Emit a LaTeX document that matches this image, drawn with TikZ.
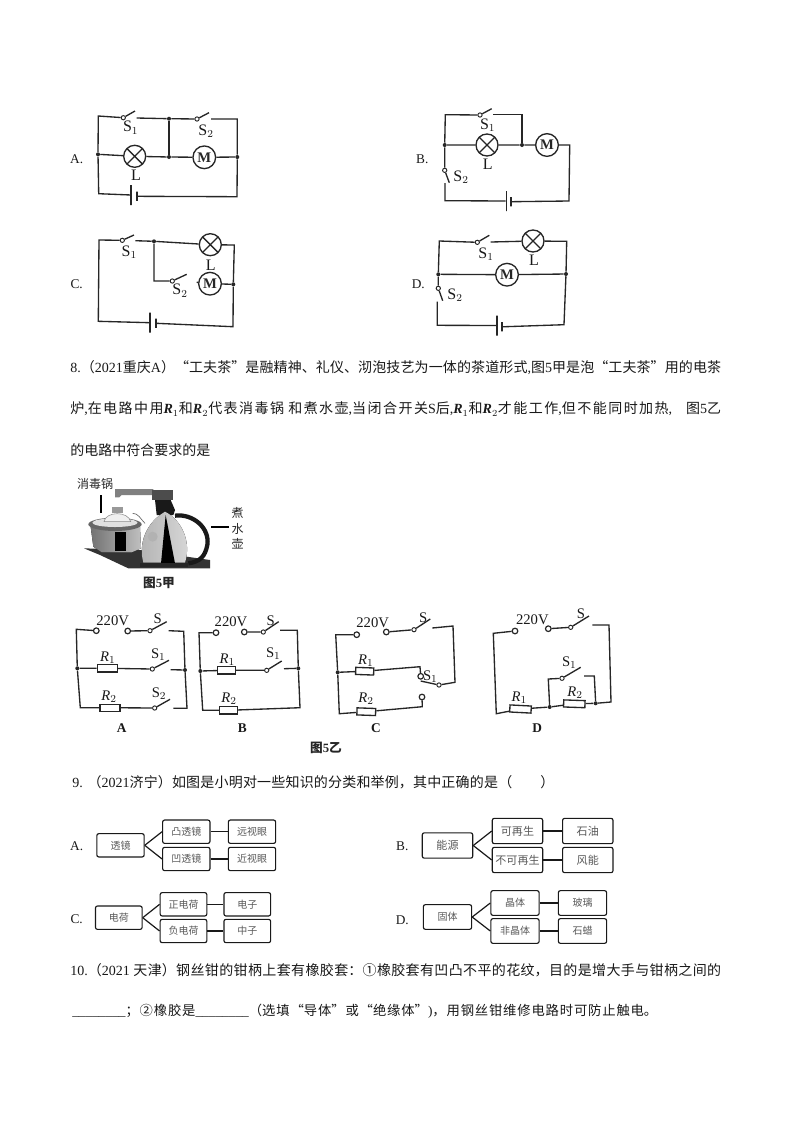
\documentclass[tikz,border=0pt]{standalone}
\usepackage{fontspec}
\setmainfont{Noto Sans CJK SC}
\newfontfamily\latfont{Liberation Serif}
\newcommand{\en}[1]{{\latfont #1}}
\newcommand{\rsub}[1]{\en{\textbf{\textit{R}}$_{#1}$}}
\newcommand{\fitline}[2]{\parbox{#1}{\XeTeXlinebreaklocale "zh"\XeTeXlinebreakskip=0pt plus 3pt\relax\parfillskip=0pt\relax #2}}
\tikzset{
  wire/.style={line width=1pt, black!85},
  lamp/.style={circle, draw, black!85, line width=1pt, fill=white, inner sep=0pt, minimum size=16.5pt,
    path picture={\draw[line width=1pt] (path picture bounding box.south west) -- (path picture bounding box.north east)
      (path picture bounding box.north west) -- (path picture bounding box.south east);}},
  motor/.style={circle, draw, black!85, line width=1pt, fill=white, inner sep=0pt, minimum size=17pt,
    font=\latfont\bfseries\fontsize{11}{12}\selectfont},
  term/.style={circle, draw, black!85, line width=0.7pt, fill=white, inner sep=0pt, minimum size=3.2pt},
  termb/.style={term, line width=0.9pt, minimum size=4.2pt},
  dotn/.style={circle, fill=black!85, inner sep=0pt, minimum size=3pt},
  platel/.style={draw, black!85, line width=0.9pt, inner sep=0pt, minimum width=0pt, minimum height=15pt},
  plates/.style={draw, black!85, line width=1.3pt, inner sep=0pt, minimum width=0pt, minimum height=7pt},
  resist/.style={draw, black!85, line width=1pt, fill=white, inner sep=0pt, minimum width=15pt, minimum height=5.3pt},
  lbl/.style={inner sep=0pt, black!90, font=\latfont\fontsize{12}{13}\selectfont},
  lbls/.style={inner sep=0pt, black!90, font=\latfont\fontsize{11}{12}\selectfont},
  opt/.style={inner sep=0pt, black!90, font=\latfont\fontsize{10}{11}\selectfont},
  optb/.style={inner sep=0pt, black!90, font=\latfont\bfseries\fontsize{10}{11}\selectfont},
  para/.style={inner sep=0pt, anchor=west, black!90, font=\fontsize{10.5}{13}\selectfont},
  paras/.style={inner sep=0pt, anchor=west, black!90, font=\fontsize{10}{13}\selectfont},
  figcap/.style={inner sep=0pt, black!85, font=\bfseries\fontsize{9.5}{10}\selectfont},
  note/.style={inner sep=0pt, black!85, font=\fontsize{9}{10.5}\selectfont, align=center},
  boxa/.style={draw, black!90, line width=0.85pt, rounded corners=1.5pt, text=black!65, inner sep=0pt,
    minimum width=35.5pt, minimum height=17.5pt, font=\fontsize{7.5}{9}\selectfont},
  boxc/.style={boxa, minimum width=35pt},
  boxb/.style={boxa, minimum width=37.8pt, minimum height=19pt, font=\fontsize{8.3}{9}\selectfont},
  boxd/.style={boxa, minimum width=36.2pt, minimum height=18.5pt},
  link/.style={line width=0.9pt, black!90},
}
\begin{document}
\begin{tikzpicture}[x=0.75pt, y=-0.75pt]
  \path[use as bounding box, fill=white] (0,0) rectangle (794,1122);

  % Circuit A
  \node[lamp] (al) at (134.7,156.3) {};
  \node[motor] (am) at (204.3,157.3) {M};
  \node[term] (as1) at (123.3,117.7) {};
  \node[term] (as2) at (197,119) {};
  \node[dotn] (aj1) at (98,154.3) {};
  \node[dotn] (aj2) at (169,118.7) {};
  \node[dotn] (aj3) at (169,157) {};
  \node[dotn] (aj4) at (237.3,157) {};
  \node[platel] (ab1) at (131,195) {};
  \node[plates] (ab2) at (137,196.3) {};
  \path (98.3,116) coordinate (ac1) (135,111) coordinate (ac2) (136.7,118) coordinate (ac3)
    (209,112.7) coordinate (ac4) (211,119) coordinate (ac5) (237.3,119) coordinate (ac6)
    (237,196.7) coordinate (ac7) (98.7,193.7) coordinate (ac8);
  \draw[wire] (ab1) -- (ac8) -- (aj1) -- (ac1) -- (as1) -- (ac2);
  \draw[wire] (ac3) -- (aj2) -- (as2) -- (ac4);
  \draw[wire] (ac5) -- (ac6) -- (aj4) -- (ac7) -- (ab2);
  \draw[wire] (aj1) -- (al) -- (aj3) -- (am) -- (aj4);
  \draw[wire] (aj2) -- (aj3);
  \node[opt] (aname) at (76.7,159.3) {A.};
  \node[lbl] (as1t) at (130.7,127.7) {S$_1$};
  \node[lbl] (as2t) at (206,131) {S$_2$};
  \node[lbl] (alt) at (136,175) {L};

  % Circuit B
  \node[lamp] (bl) at (487,145) {};
  \node[motor] (bm) at (547,145) {M};
  \node[term] (bs1) at (480,115) {};
  \node[term] (bs2) at (444.7,170.3) {};
  \node[dotn] (bj1) at (444.7,145) {};
  \node[dotn] (bj2) at (522,145) {};
  \node[platel] (bb1) at (506.3,201) {};
  \node[plates] (bb2) at (511,201.7) {};
  \path (445.3,114.7) coordinate (bc1) (491.7,108.7) coordinate (bc2) (493.3,114.7) coordinate (bc3)
    (522,114.7) coordinate (bc4) (569.7,145) coordinate (bc5) (569,201) coordinate (bc6)
    (445,200.7) coordinate (bc7) (445,183) coordinate (bc8) (449.3,182.7) coordinate (bc9);
  \draw[wire] (bb1) -- (bc7) -- (bc8);
  \draw[wire] (bc9) -- (bs2) -- (bj1) -- (bc1) -- (bs1) -- (bc2);
  \draw[wire] (bc3) -- (bc4) -- (bj2);
  \draw[wire] (bj1) -- (bl) -- (bj2) -- (bm) -- (bc5) -- (bc6) -- (bb2);
  \node[opt] (bname) at (422.3,159) {B.};
  \node[lbl] (bs1t) at (487.7,125) {S$_1$};
  \node[lbl] (bs2t) at (461,177.3) {S$_2$};
  \node[lbl] (blt) at (487.7,164.3) {L};

  % Circuit C
  \node[lamp] (cl) at (210.3,244.7) {};
  \node[motor] (cm) at (210,283.7) {M};
  \node[term] (cs1) at (122.3,240.3) {};
  \node[term] (cs2) at (172.3,281) {};
  \node[dotn] (cj1) at (154,241.3) {};
  \node[dotn] (cj2) at (233.3,284.3) {};
  \node[platel] (cb1) at (150,322.7) {};
  \node[plates] (cb2) at (156.3,323.3) {};
  \path (99,240) coordinate (cc1) (134,235) coordinate (cc2) (135.3,240.7) coordinate (cc3)
    (234.3,245) coordinate (cc4) (233,326.7) coordinate (cc5) (98.3,321.3) coordinate (cc6)
    (154,281) coordinate (cc7) (186.7,274.3) coordinate (cc8) (196.7,282.3) coordinate (cc9);
  \draw[wire] (cb1) -- (cc6) -- (cc1) -- (cs1) -- (cc2);
  \draw[wire] (cc3) -- (cj1) -- (cl) -- (cc4) -- (cj2) -- (cc5) -- (cb2);
  \draw[wire] (cj1) -- (cc7) -- (cs2) -- (cc8);
  \draw[wire] (cc9) -- (cm) -- (cj2);
  \node[opt] (cname) at (76.7,284.3) {C.};
  \node[lbl] (cs1t) at (129.3,252.3) {S$_1$};
  \node[lbl] (cs2t) at (180,290.7) {S$_2$};
  \node[lbl] (clt) at (210.7,265) {L};

  % Circuit D
  \node[lamp] (dl) at (533,241) {};
  \node[motor] (dm) at (507,274.7) {M};
  \node[term] (ds1) at (477.3,242.3) {};
  \node[term] (ds2) at (438.3,288.3) {};
  \node[dotn] (dj1) at (438.3,274.3) {};
  \node[dotn] (dj2) at (566,274) {};
  \node[platel] (db1) at (497,325.5) {};
  \node[plates] (db2) at (502.3,326.8) {};
  \path (439.3,241) coordinate (dc1) (489.3,235.3) coordinate (dc2) (490.7,242) coordinate (dc3)
    (566.7,241.3) coordinate (dc4) (564,324.7) coordinate (dc5) (437.3,325.3) coordinate (dc6)
    (437.3,301.7) coordinate (dc7) (442.7,300.7) coordinate (dc8);
  \draw[wire] (db1) -- (dc6) -- (dc7);
  \draw[wire] (dc8) -- (ds2) -- (dj1) -- (dc1) -- (ds1) -- (dc2);
  \draw[wire] (dc3) -- (dl) -- (dc4) -- (dj2) -- (dc5) -- (db2);
  \draw[wire] (dj1) -- (dm) -- (dj2);
  \node[opt] (dname) at (418.3,284.3) {D.};
  \node[lbl] (ds1t) at (486,254) {S$_1$};
  \node[lbl] (ds2t) at (455,295) {S$_2$};
  \node[lbl] (dlt) at (534,260.7) {L};

  % Question 8
  \node[para] (q8a) at (70,368) {\fitline{488.2pt}{\en{8.}（\en{2021}重庆\en{A}）“工夫茶”是融精神、礼仪、沏泡技艺为一体的茶道形式\en{,}图\en{5}甲是泡“工夫茶”用的电茶}};
  \node[para] (q8b) at (70,409) {\fitline{488.2pt}{炉\en{,}在电路中用\rsub{1}和\rsub{2}代表消毒锅\en{ }和煮水壶\en{,}当闭合开关\en{S}后\en{,}\rsub{1}和\rsub{2}才能工作\en{,}但不能同时加热\en{,}\quad 图\en{5}乙}};
  \node[para] (q8c) at (70,450) {的电路中符合要求的是};

  % Figure 5 jia
  \begin{scope}[shift={(60,465)}, x=0.25pt, y=-0.25pt]
    \fill[black!80] (72,250) -- (240,255) -- (450,285) -- (450,310) -- (205,310) -- (120,270) -- cycle;
    \fill[black!50] (165,72) -- (280,72) -- (280,90) -- (185,90) -- (178,97) -- (165,97) -- cycle;
    \fill[black!70] (275,75) rectangle (338,105);
    \fill[black!90] (285,105) -- (332,105) -- (345,135) -- (340,150) -- (290,150) -- cycle;
    \fill[left color=black!55, middle color=white, right color=black!25]
      (92,185) -- (240,185) -- (243,250) -- (215,262) -- (125,262) -- (100,245) -- cycle;
    \fill[black] (165,200) rectangle (197,258);
    \fill[black!60] (165,178) ellipse (80 and 20);
    \fill[black!12] (165,173) ellipse (68 and 13);
    \fill[black!6, draw=black!45, line width=0.4pt] (132,170) .. controls (138,138) and (205,138) .. (212,170) -- cycle;
    \fill[black!40] (155,125) rectangle (190,145);
    \draw[black!60, line width=0.5pt] (218,145) .. controls (235,145) and (240,160) .. (255,175);
    \draw[black!90, line width=3.2pt] (345,152) .. controls (400,145) and (450,190) .. (442,240) .. controls (435,275) and (420,290) .. (385,295);
    \fill[left color=black!30, middle color=white, right color=black!15]
      (250,293) .. controls (235,240) and (255,175) .. (315,140) .. controls (365,165) and (395,230) .. (375,293) -- cycle;
    \fill[black] (317,150) -- (345,295) -- (303,295) -- cycle;
    \fill[black!30] (278,215) circle (15);
    \fill[black!85] (240,295) -- (385,295) -- (385,305) -- (240,305) -- cycle;
  \end{scope}
  \coordinate (xline1a) at (101,495);
  \coordinate (xline1b) at (101,513);
  \coordinate (zline1a) at (211,527);
  \coordinate (zline1b) at (229,527);
  \draw[black, line width=1pt] (xline1a) -- (xline1b);
  \draw[black, line width=1pt] (zline1a) -- (zline1b);
  \node[note] (xdg) at (95,484) {消毒锅};
  \node[note] (zsh) at (237.7,528.5) {煮\\[1pt]水\\[1pt]壶};
  \node[figcap] (fig5j) at (159,583.3) {图\en{5}甲};

  % Figure 5 yi, circuit A
  \node[termb] (ra1) at (96.3,630.7) {};
  \node[termb] (ra2) at (127.7,631) {};
  \node[term] (ras) at (150,630.7) {};
  \node[term] (ras1) at (152.3,669) {};
  \node[term] (ras2) at (154.7,708) {};
  \node[dotn] (raj1) at (77.3,668.3) {};
  \node[dotn] (raj2) at (185,670) {};
  \node[resist] (rar1) at (107.3,668.3) {};
  \node[resist] (rar2) at (110,707.7) {};
  \path (76.3,629.3) coordinate (rc1) (80.3,707.7) coordinate (rc2) (166.7,621.7) coordinate (rc3)
    (168.7,630.7) coordinate (rc4) (183.7,631.3) coordinate (rc5) (187,708.3) coordinate (rc6)
    (173.3,708.3) coordinate (rc7) (170,699.3) coordinate (rc8) (169,660.3) coordinate (rc9)
    (170.7,669.7) coordinate (rc10);
  \draw[wire] (ra1) -- (rc1) -- (raj1) -- (rc2) -- (rar2) -- (ras2) -- (rc8);
  \draw[wire] (raj1) -- (rar1) -- (ras1) -- (rc9);
  \draw[wire] (ra2) -- (ras) -- (rc3);
  \draw[wire] (rc4) -- (rc5) -- (raj2) -- (rc6) -- (rc7);
  \draw[wire] (rc10) -- (raj2);
  \node[lbls] (rat0) at (112.7,620.7) {220V};
  \node[lbls] (rat1) at (157.7,618.3) {S};
  \node[lbls] (rat2) at (107.7,657.3) {\textit{R}$_1$};
  \node[lbls] (rat3) at (158.3,655) {S$_1$};
  \node[lbls] (rat4) at (109,696.7) {\textit{R}$_2$};
  \node[lbls] (rat5) at (159,694) {S$_2$};
  \node[optb] (rat6) at (121.7,728.3) {A};

  % circuit B
  \node[termb] (rb1) at (216,632.7) {};
  \node[termb] (rb2) at (244.3,632) {};
  \node[term] (rbs) at (263.3,632) {};
  \node[term] (rbs1) at (266.7,670.3) {};
  \node[dotn] (rbj1) at (200.3,671) {};
  \node[dotn] (rbj2) at (298.3,668.3) {};
  \node[resist, minimum width=13.5pt] (rbr1) at (226.5,670.3) {};
  \node[resist, minimum width=13.5pt] (rbr2) at (228.5,710.3) {};
  \path (199,632.7) coordinate (sc1) (202.7,710.3) coordinate (sc2) (278.7,621.7) coordinate (sc3)
    (280,630.3) coordinate (sc4) (297.3,630.3) coordinate (sc5) (300,707.7) coordinate (sc6)
    (281.7,661) coordinate (sc7) (284,668.7) coordinate (sc8);
  \draw[wire] (rb1) -- (sc1) -- (rbj1) -- (sc2) -- (rbr2) -- (sc6) -- (rbj2) -- (sc5) -- (sc4);
  \draw[wire] (rbj1) -- (rbr1) -- (rbs1) -- (sc7);
  \draw[wire] (rb2) -- (rbs) -- (sc3);
  \draw[wire] (sc8) -- (rbj2);
  \node[lbls] (rbt0) at (231,622) {220V};
  \node[lbls] (rbt1) at (270.7,620.7) {S};
  \node[lbls] (rbt2) at (227.3,659.3) {\textit{R}$_1$};
  \node[lbls] (rbt3) at (273.3,653.3) {S$_1$};
  \node[lbls] (rbt4) at (229,698.3) {\textit{R}$_2$};
  \node[optb] (rbt6) at (242.3,727.7) {B};

  % circuit C
  \node[termb] (rd1) at (356.7,634.7) {};
  \node[termb] (rd2) at (386.3,632) {};
  \node[term] (rds) at (414,629.7) {};
  \node[term] (rds1) at (439,685) {};
  \node[termb] (rdu) at (420.7,676.3) {};
  \node[termb] (rdd) at (422,697) {};
  \node[dotn] (rdj1) at (337.7,672.3) {};
  \node[resist, minimum width=13.5pt, rotate=-2] (rdr1) at (364.7,671.2) {};
  \node[resist, minimum width=14pt, rotate=-2] (rdr2) at (366.3,711.7) {};
  \path (335.7,634.7) coordinate (tc1) (339.3,713.7) coordinate (tc2) (430.3,619) coordinate (tc3)
    (432.3,628) coordinate (tc4) (453,626) coordinate (tc5) (455,682.3) coordinate (tc6)
    (420.7,681) coordinate (tc7) (420,666.7) coordinate (tc8) (422.3,706.7) coordinate (tc9);
  \draw[wire] (rd1) -- (tc1) -- (rdj1) -- (tc2) -- (rdr2) -- (tc9) -- (rdd);
  \draw[wire] (rdj1) -- (rdr1) -- (tc8) -- (rdu);
  \draw[wire] (rd2) -- (rds) -- (tc3);
  \draw[wire] (tc4) -- (tc5) -- (tc6) -- (rds1) -- (tc7);
  \node[lbls] (rdt0) at (372.7,622.7) {220V};
  \node[lbls] (rdt1) at (423.3,617.3) {S};
  \node[lbls] (rdt2) at (365.7,660.7) {\textit{R}$_1$};
  \node[lbls] (rdt3) at (430.3,676.7) {S$_1$};
  \node[lbls] (rdt4) at (366,699) {\textit{R}$_2$};
  \node[optb] (rdt6) at (376,728) {C};

  % circuit D
  \node[termb] (re1) at (515,631) {};
  \node[termb] (re2) at (548.3,628.7) {};
  \node[term] (res) at (570.7,627.3) {};
  \node[term] (res1) at (562,678.3) {};
  \node[dotn] (rej1) at (549.7,707) {};
  \node[dotn] (rej2) at (595.7,703.3) {};
  \node[resist, minimum width=16pt, rotate=-3] (rer1) at (520.5,709) {};
  \node[resist, minimum width=16pt, rotate=-2] (rer2) at (574.3,703.8) {};
  \path (493.3,633.3) coordinate (uc1) (496.3,713.7) coordinate (uc2) (589,616) coordinate (uc3)
    (592.3,625) coordinate (uc4) (609,625) coordinate (uc5) (611,702) coordinate (uc6)
    (548.3,679) coordinate (uc7) (580.7,667.3) coordinate (uc8) (584,676) coordinate (uc9)
    (594.3,676) coordinate (uc10);
  \draw[wire] (re1) -- (uc1) -- (uc2) -- (rer1) -- (rej1) -- (rer2) -- (rej2) -- (uc6) -- (uc5) -- (uc4);
  \draw[wire] (re2) -- (res) -- (uc3);
  \draw[wire] (rej1) -- (uc7) -- (res1) -- (uc8);
  \draw[wire] (uc9) -- (uc10) -- (rej2);
  \node[lbls] (ret0) at (532.3,619.3) {220V};
  \node[lbls] (ret1) at (581,614) {S};
  \node[lbls] (ret2) at (519.3,697.7) {\textit{R}$_1$};
  \node[lbls] (ret3) at (569.3,662.7) {S$_1$};
  \node[lbls] (ret4) at (575,692.7) {\textit{R}$_2$};
  \node[optb] (ret6) at (537.3,727.7) {D};
  \node[figcap] (fig5y) at (326,748) {图\en{5}乙};

  % Question 9
  \node[para] (q9) at (72,782) {\fitline{361.5pt}{\en{9.}\en{ }（\en{2021}济宁）如图是小明对一些知识的分类和举例，其中正确的是（\quad\quad ）}};

  \node[opt] (kaname) at (76.7,846) {A.};
  \node[boxa] (ka) at (120.5,845.3) {透镜};
  \node[boxa] (ka1) at (186.3,831.7) {凸透镜};
  \node[boxa] (ka2) at (186.3,859) {凹透镜};
  \node[boxa] (ka3) at (252,831.7) {远视眼};
  \node[boxa] (ka4) at (252,859) {近视眼};
  \draw[link] (ka.east) -- (ka1.west);
  \draw[link] (ka.east) -- (ka2.west);
  \draw[link] (ka1) -- (ka3);
  \draw[link] (ka2) -- (ka4);

  \node[opt] (kbname) at (402.3,846) {B.};
  \node[boxb] (kb) at (447.5,845.5) {能源};
  \node[boxb] (kb1) at (517.5,831) {可再生};
  \node[boxb] (kb2) at (517.5,860) {不可再生};
  \node[boxb] (kb3) at (587.8,831) {石油};
  \node[boxb] (kb4) at (587.8,860) {风能};
  \draw[link] (kb.east) -- (kb1.west);
  \draw[link] (kb.east) -- (kb2.west);
  \draw[link] (kb1) -- (kb3);
  \draw[link] (kb2) -- (kb4);

  \node[opt] (kcname) at (76.7,919) {C.};
  \node[boxc] (kc) at (118.8,917.7) {电荷};
  \node[boxc] (kc1) at (183.5,904.3) {正电荷};
  \node[boxc] (kc2) at (183.5,931) {负电荷};
  \node[boxc] (kc3) at (247.3,904.3) {电子};
  \node[boxc] (kc4) at (247.3,931) {中子};
  \draw[link] (kc.east) -- (kc1.west);
  \draw[link] (kc.east) -- (kc2.west);
  \draw[link] (kc1) -- (kc3);
  \draw[link] (kc2) -- (kc4);

  \node[opt] (kdname) at (402.3,920) {D.};
  \node[boxd] (kd) at (447.5,917) {固体};
  \node[boxd] (kd1) at (515,903) {晶体};
  \node[boxd] (kd2) at (515,931) {非晶体};
  \node[boxd] (kd3) at (582.5,903) {玻璃};
  \node[boxd] (kd4) at (582.5,931) {石蜡};
  \draw[link] (kd.east) -- (kd1.west);
  \draw[link] (kd.east) -- (kd2.west);
  \draw[link] (kd1) -- (kd3);
  \draw[link] (kd2) -- (kd4);

  % Question 10
  \node[para] (q10a) at (70,970) {\fitline{488.2pt}{\en{10.}（\en{2021 }天津）钢丝钳的钳柄上套有橡胶套：①橡胶套有凹凸不平的花纹，目的是增大手与钳柄之间的}};
  \node[paras] (q10b) at (72,1011) {\fitline{438.8pt}{\en{\_\_\_\_\_\_\_\_}；②橡胶是\en{\_\_\_\_\_\_\_\_}（选填“导体”或“绝缘体”\en{)}，用钢丝钳维修电路时可防止触电。}};
\end{tikzpicture}
\end{document}
